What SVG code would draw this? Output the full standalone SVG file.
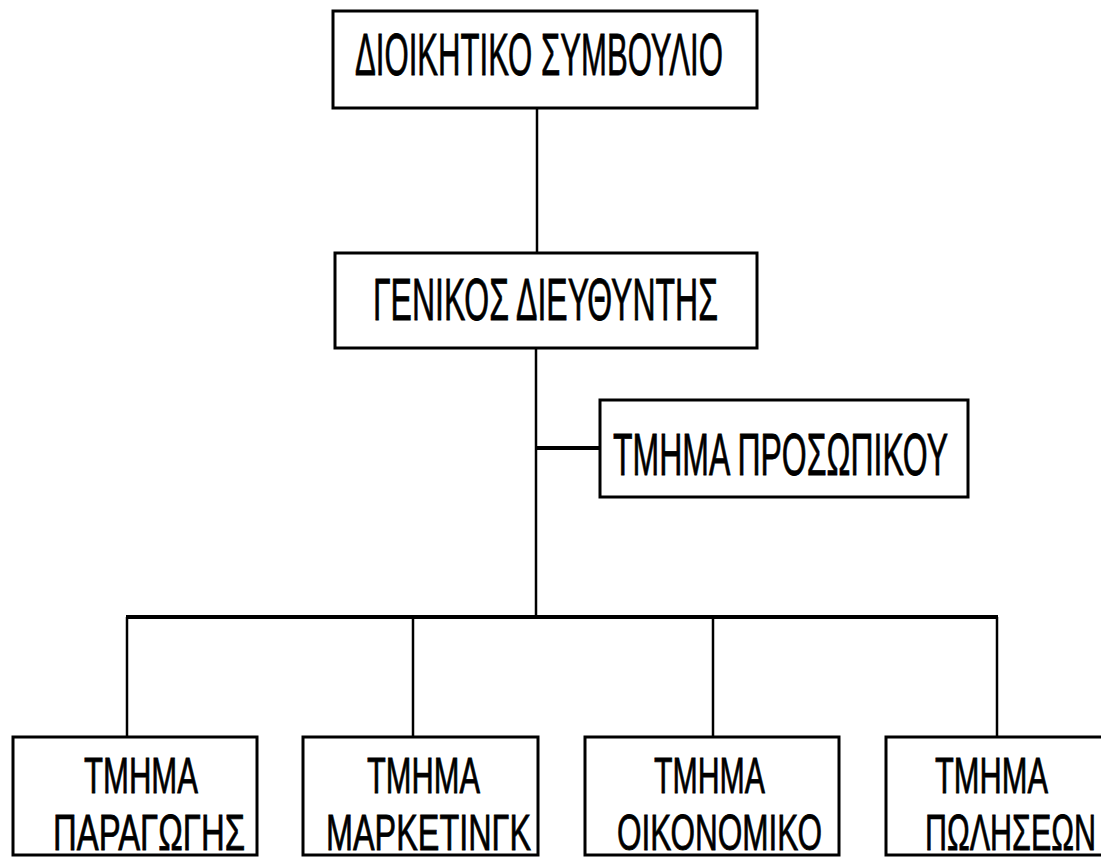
<svg xmlns="http://www.w3.org/2000/svg" width="1101" height="857" viewBox="0 0 1101 857">
<style>
.box{fill:#fff;stroke:#000;stroke-width:3}
.ln{fill:none;stroke:#000;stroke-width:2.5}
.bus{fill:none;stroke:#000;stroke-width:4}
text{font-family:"Liberation Sans","DejaVu Sans",sans-serif;fill:#000;stroke:#000;stroke-width:0.8}
.big{font-size:59px}
.sm{font-size:50px}
</style>
<rect width="1101" height="857" fill="#fff"/>
<g id="connectors">
<line class="ln" x1="537" y1="108" x2="537" y2="253"/>
<line class="ln" x1="536" y1="348" x2="536" y2="617"/>
<line class="bus" x1="536" y1="448" x2="600" y2="448"/>
<line class="bus" x1="126" y1="617" x2="998" y2="617"/>
<line class="ln" x1="127" y1="617" x2="127" y2="737"/>
<line class="ln" x1="413" y1="617" x2="413" y2="737"/>
<line class="ln" x1="713" y1="617" x2="713" y2="737"/>
<line class="ln" x1="997" y1="617" x2="997" y2="737"/>
</g>
<g id="board">
<rect class="box" x="333" y="11" width="424" height="97"/>
<text class="big" x="355" y="75" textLength="368" lengthAdjust="spacingAndGlyphs">ΔΙΟΙΚΗΤΙΚΟ ΣΥΜΒΟΥΛΙΟ</text>
</g>
<g id="gm">
<rect class="box" x="335" y="253" width="422" height="95"/>
<text class="big" x="373" y="320" textLength="345" lengthAdjust="spacingAndGlyphs">ΓΕΝΙΚΟΣ ΔΙΕΥΘΥΝΤΗΣ</text>
</g>
<g id="personnel">
<rect class="box" x="600" y="400" width="368" height="97"/>
<text class="big" x="613" y="475" textLength="335" lengthAdjust="spacingAndGlyphs">ΤΜΗΜΑ ΠΡΟΣΩΠΙΚΟΥ</text>
</g>
<g id="production">
<rect class="box" x="13" y="737" width="244" height="118"/>
<text class="sm" x="84" y="793" textLength="114" lengthAdjust="spacingAndGlyphs">ΤΜΗΜΑ</text>
<text class="sm" x="53" y="850" textLength="192" lengthAdjust="spacingAndGlyphs">ΠΑΡΑΓΩΓΗΣ</text>
</g>
<g id="marketing">
<rect class="box" x="303" y="737" width="235" height="118"/>
<text class="sm" x="367" y="793" textLength="113" lengthAdjust="spacingAndGlyphs">ΤΜΗΜΑ</text>
<text class="sm" x="326" y="850" textLength="205" lengthAdjust="spacingAndGlyphs">ΜΑΡΚΕΤΙΝΓΚ</text>
</g>
<g id="finance">
<rect class="box" x="585" y="737" width="254" height="118"/>
<text class="sm" x="654" y="793" textLength="111" lengthAdjust="spacingAndGlyphs">ΤΜΗΜΑ</text>
<text class="sm" x="617" y="850" textLength="205" lengthAdjust="spacingAndGlyphs">ΟΙΚΟΝΟΜΙΚΟ</text>
</g>
<g id="sales">
<rect class="box" x="886" y="737" width="225" height="118"/>
<text class="sm" x="935" y="793" textLength="113" lengthAdjust="spacingAndGlyphs">ΤΜΗΜΑ</text>
<text class="sm" x="925" y="850" textLength="171" lengthAdjust="spacingAndGlyphs">ΠΩΛΗΣΕΩΝ</text>
</g>
</svg>
